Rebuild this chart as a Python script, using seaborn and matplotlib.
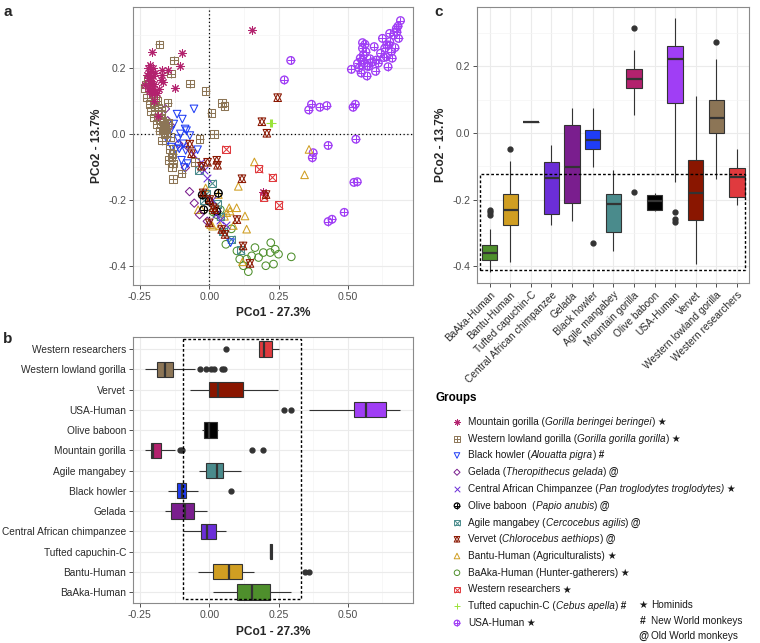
import matplotlib
matplotlib.use("Agg")
import matplotlib.pyplot as plt
from matplotlib.patches import Rectangle
from matplotlib.ticker import FixedLocator
import pandas as pd
import seaborn as sns

# PCoA coordinates (PCo1, PCo2), one pair of lists per group
mountain_gorilla_x = [-0.230, -0.225, -0.222, -0.218, -0.215, -0.212, -0.210, -0.208, -0.206, -0.205,
                      -0.203, -0.201, -0.200, -0.198, -0.195, -0.190, -0.185, -0.180, -0.170, -0.168,
                      -0.150, -0.125, -0.104, -0.100, 0.153, 0.193,
                      -0.221, -0.216, -0.213, -0.209, -0.204, -0.202, -0.175, -0.172]
mountain_gorilla_y = [0.150, 0.180, 0.200, 0.130, 0.210, 0.155, 0.190, 0.132, 0.250, 0.120,
                      0.175, 0.152, 0.128, 0.100, 0.185, 0.125, 0.055, 0.135, 0.195, 0.158,
                      0.193, 0.138, 0.205, 0.245, 0.315, -0.177,
                      0.170, 0.140, 0.185, 0.160, 0.145, 0.200, 0.165, 0.178]

lowland_gorilla_x = [-0.233, -0.225, -0.220, -0.215, -0.210, -0.205, -0.200, -0.195, -0.190, -0.185,
                     -0.180, -0.175, -0.170, -0.168, -0.165, -0.162, -0.160, -0.158, -0.155, -0.150,
                     -0.145, -0.140, -0.135, -0.132, -0.130, -0.100, -0.070, -0.052, -0.035, -0.013,
                     0.008, 0.018, 0.045, 0.055, -0.180, -0.128, -0.138,
                     -0.228, -0.212, -0.198, -0.188, -0.178, -0.172, -0.163, -0.152, -0.147, -0.142,
                     -0.136, -0.131]
lowland_gorilla_y = [0.140, 0.110, 0.165, 0.090, 0.070, 0.125, 0.050, 0.106, 0.030, 0.080,
                     0.010, 0.060, -0.020, 0.040, 0.012, 0.000, 0.020, 0.015, 0.005, 0.095,
                     -0.080, -0.010, -0.100, -0.060, -0.137, -0.120, 0.153, -0.085, -0.016, 0.130,
                     0.064, 0.000, 0.094, 0.084, 0.272, 0.223, 0.183,
                     0.150, 0.120, 0.085, 0.100, 0.045, 0.070, 0.025, 0.030, 0.035, -0.045,
                     -0.070, -0.090]

black_howler_x = [-0.150, -0.140, -0.135, -0.128, -0.120, -0.116, -0.112, -0.108, -0.104, -0.100,
                  -0.097, -0.094, -0.090, -0.087, -0.085, -0.082, -0.078, -0.070, -0.055, -0.042, 0.077]
black_howler_y = [-0.020, 0.010, -0.040, 0.030, -0.046, 0.060, -0.015, -0.045, 0.000, -0.080,
                  0.045, -0.030, -0.102, 0.015, -0.050, 0.010, -0.090, -0.005, 0.076, -0.048, -0.330]

gelada_x = [-0.158, -0.150, -0.139, -0.110, -0.086, -0.071, -0.054, -0.035, -0.007]
gelada_y = [0.076, 0.040, 0.025, -0.030, -0.102, -0.175, -0.210, -0.245, -0.265]

chimpanzee_x = [-0.094, -0.060, -0.031, -0.020, -0.007, 0.010, 0.024, 0.040, 0.060]
chimpanzee_y = [-0.037, -0.060, -0.086, -0.110, -0.134, -0.200, -0.242, -0.260, -0.275]

olive_baboon_x = [-0.025, -0.020, 0.000, 0.027, 0.033]
olive_baboon_y = [-0.185, -0.230, -0.204, -0.235, -0.180]

mangabey_x = [-0.036, -0.020, -0.010, 0.010, 0.027, 0.040, 0.050, 0.080, 0.113]
mangabey_y = [-0.110, -0.200, -0.182, -0.150, -0.213, -0.250, -0.296, -0.320, -0.353]

vervet_x = [-0.070, -0.064, -0.028, -0.022, -0.006, 0.000, 0.002, 0.014, 0.020, 0.027,
            0.030, 0.045, 0.057, 0.100, 0.118, 0.122, 0.147, 0.190, 0.205, 0.208, 0.247]
vervet_y = [-0.031, -0.060, -0.098, -0.179, -0.086, -0.270, -0.199, -0.224, -0.230, -0.080,
            -0.095, -0.290, -0.305, -0.260, -0.136, -0.340, -0.393, 0.037, -0.184, 0.002, 0.110]

bantu_x = [-0.040, -0.028, -0.013, 0.000, 0.005, 0.012, 0.033, 0.039, 0.055, 0.063,
           0.072, 0.075, 0.087, 0.099, 0.105, 0.120, 0.129, 0.135, 0.163, 0.344, 0.360]
bantu_y = [-0.230, -0.229, -0.164, -0.200, -0.275, -0.280, -0.184, -0.279, -0.250, -0.239,
           -0.224, -0.234, -0.278, -0.224, -0.159, -0.388, -0.249, -0.289, -0.085, -0.124, -0.047]

baaka_x = [0.015, 0.027, 0.040, 0.060, 0.080, 0.100, 0.110, 0.123, 0.135, 0.141,
           0.153, 0.165, 0.178, 0.195, 0.204, 0.220, 0.222, 0.232, 0.238, 0.250, 0.296]
baaka_y = [-0.237, -0.245, -0.230, -0.335, -0.288, -0.355, -0.380, -0.400, -0.380, -0.418,
           -0.370, -0.345, -0.375, -0.360, -0.400, -0.360, -0.330, -0.395, -0.350, -0.365, -0.373]

researchers_x = [0.060, 0.178, 0.228, 0.250, 0.196]
researchers_y = [-0.047, -0.105, -0.132, -0.215, -0.192]

capuchin_x = [0.218, 0.222, 0.228]
capuchin_y = [0.033, 0.034, 0.032]

usa_x = [0.271, 0.294, 0.359, 0.369, 0.372, 0.375, 0.399, 0.424, 0.429, 0.429,
         0.443, 0.487, 0.513, 0.519, 0.522, 0.527, 0.529, 0.534, 0.535, 0.553,
         0.553, 0.553, 0.562, 0.569, 0.569, 0.589, 0.603, 0.618, 0.633, 0.639,
         0.645, 0.651, 0.651, 0.657, 0.677, 0.681, 0.683, 0.690, 0.640, 0.660,
         0.600, 0.540, 0.545, 0.548, 0.556, 0.560, 0.565, 0.575, 0.580, 0.595,
         0.610, 0.625, 0.630, 0.648, 0.665, 0.670, 0.675]
usa_y = [0.164, 0.223, 0.073, 0.090, -0.072, -0.057, 0.081, 0.086, -0.035, -0.266,
         -0.259, -0.238, 0.196, 0.081, -0.147, 0.090, -0.016, -0.145, 0.214, 0.224,
         0.260, 0.277, 0.272, 0.206, 0.176, 0.219, 0.224, 0.245, 0.260, 0.234,
         0.204, 0.280, 0.305, 0.250, 0.310, 0.327, 0.290, 0.344, 0.270, 0.230,
         0.190, 0.200, 0.230, 0.185, 0.240, 0.215, 0.250, 0.205, 0.228, 0.265,
         0.215, 0.290, 0.232, 0.270, 0.300, 0.262, 0.320]

groups = {
    "BaAka-Human": (baaka_x, baaka_y),
    "Bantu-Human": (bantu_x, bantu_y),
    "Tufted capuchin-C": (capuchin_x, capuchin_y),
    "Central African chimpanzee": (chimpanzee_x, chimpanzee_y),
    "Gelada": (gelada_x, gelada_y),
    "Black howler": (black_howler_x, black_howler_y),
    "Agile mangabey": (mangabey_x, mangabey_y),
    "Mountain gorilla": (mountain_gorilla_x, mountain_gorilla_y),
    "Olive baboon": (olive_baboon_x, olive_baboon_y),
    "USA-Human": (usa_x, usa_y),
    "Vervet": (vervet_x, vervet_y),
    "Western lowland gorilla": (lowland_gorilla_x, lowland_gorilla_y),
    "Western researchers": (researchers_x, researchers_y),
}
c_order = list(groups.keys())
b_order = c_order[::-1]

colors = {
    "BaAka-Human": "#4E8F2C",
    "Bantu-Human": "#D09E22",
    "Tufted capuchin-C": "#9BE33A",
    "Central African chimpanzee": "#6B2ED8",
    "Gelada": "#7A1E8E",
    "Black howler": "#1F3DF5",
    "Agile mangabey": "#4A8B8C",
    "Mountain gorilla": "#B3226E",
    "Olive baboon": "#000000",
    "USA-Human": "#A03EF5",
    "Vervet": "#8A1600",
    "Western lowland gorilla": "#8C7556",
    "Western researchers": "#E03A3E",
}
shapes = {
    "Mountain gorilla": "asterisk",
    "Western lowland gorilla": "sq_plus",
    "Black howler": "tri_down",
    "Gelada": "diamond",
    "Central African chimpanzee": "cross",
    "Olive baboon": "circ_plus",
    "Agile mangabey": "sq_x",
    "Vervet": "hexagram",
    "Bantu-Human": "tri_up",
    "BaAka-Human": "circle",
    "Western researchers": "sq_x",
    "Tufted capuchin-C": "plus",
    "USA-Human": "circ_plus",
}

df = pd.concat(
    [pd.DataFrame({"group": g, "pco1": xy[0], "pco2": xy[1]}) for g, xy in groups.items()],
    ignore_index=True)

sns.set_theme(style="whitegrid")
plt.rcParams["font.family"] = ["Liberation Sans", "DejaVu Sans"]

fig = plt.figure(figsize=(7.6, 6.43), dpi=100)
ax_a = fig.add_axes([0.175, 0.557, 0.368, 0.432])
ax_b = fig.add_axes([0.175, 0.062, 0.368, 0.414])
ax_c = fig.add_axes([0.628, 0.560, 0.358, 0.429])

tick_col = "#4D4D4D"
grid_major = "#EBEBEB"
grid_minor = "#F4F4F4"


def draw_marker(ax, xs, ys, color, shape, s, lw=0.75, zorder=3):
    open_kw = dict(facecolors="none", edgecolors=color, s=s, linewidths=lw, zorder=zorder)
    line_kw = dict(c=color, s=s, linewidths=lw, zorder=zorder)
    if shape == "asterisk":
        ax.scatter(xs, ys, marker=(8, 2, 0), **line_kw)
    elif shape == "sq_plus":
        ax.scatter(xs, ys, marker="s", **open_kw)
        ax.scatter(xs, ys, marker="+", **line_kw)
    elif shape == "sq_x":
        ax.scatter(xs, ys, marker="s", **open_kw)
        ax.scatter(xs, ys, marker="x", **line_kw)
    elif shape == "circ_plus":
        ax.scatter(xs, ys, marker="o", facecolors="none", edgecolors=color, s=s,
                   linewidths=lw * 1.3, zorder=zorder)
        ax.scatter(xs, ys, marker="+", **line_kw)
    elif shape == "tri_down":
        ax.scatter(xs, ys, marker="v", **open_kw)
    elif shape == "tri_up":
        ax.scatter(xs, ys, marker="^", **open_kw)
    elif shape == "hexagram":
        ax.scatter(xs, ys, marker="^", **open_kw)
        ax.scatter(xs, ys, marker="v", **open_kw)
    elif shape == "diamond":
        ax.scatter(xs, ys, marker="D", facecolors="none", edgecolors=color,
                   s=s * 0.6, linewidths=lw, zorder=zorder)
    elif shape == "cross":
        ax.scatter(xs, ys, marker="x", **line_kw)
    elif shape == "plus":
        ax.scatter(xs, ys, marker="+", **line_kw)
    elif shape == "circle":
        ax.scatter(xs, ys, marker="o", **open_kw)


def style_axes(ax):
    ax.set_facecolor("white")
    ax.set_axisbelow(True)
    for sp in ax.spines.values():
        sp.set_visible(True)
        sp.set_color("#8A8A8A")
        sp.set_linewidth(0.8)
    ax.tick_params(which="major", length=3, width=0.6, color="#333333",
                   labelsize=7.6, labelcolor=tick_col, pad=2,
                   bottom=True, left=True)
    ax.tick_params(which="minor", length=0)


# ---- panel a: scatter ----
draw_order = ["USA-Human", "BaAka-Human", "Bantu-Human", "Western researchers", "Agile mangabey",
              "Olive baboon", "Central African chimpanzee", "Gelada", "Black howler",
              "Western lowland gorilla", "Mountain gorilla", "Vervet", "Tufted capuchin-C"]
for g in draw_order:
    xs, ys = groups[g]
    draw_marker(ax_a, xs, ys, colors[g], shapes[g], 30)

ax_a.set_xlim(-0.275, 0.734)
ax_a.set_ylim(-0.458, 0.385)
ax_a.xaxis.set_major_locator(FixedLocator([-0.25, 0.0, 0.25, 0.5]))
ax_a.xaxis.set_minor_locator(FixedLocator([-0.125, 0.125, 0.375, 0.625]))
ax_a.yaxis.set_major_locator(FixedLocator([-0.4, -0.2, 0.0, 0.2]))
ax_a.yaxis.set_minor_locator(FixedLocator([-0.3, -0.1, 0.1, 0.3]))
ax_a.set_xticklabels(["-0.25", "0.00", "0.25", "0.50"])
ax_a.set_yticklabels(["-0.4", "-0.2", "0.0", "0.2"])
ax_a.grid(which="major", color=grid_major, lw=0.8)
ax_a.grid(which="minor", color=grid_minor, lw=0.5)
ax_a.axhline(0, color="black", ls=(0, (1, 2)), lw=0.9, zorder=2)
ax_a.axvline(0, color="black", ls=(0, (1, 2)), lw=0.9, zorder=2)
style_axes(ax_a)
ax_a.set_xlabel("PCo1 - 27.3%", fontsize=8.6, fontweight="bold", labelpad=4)
ax_a.set_ylabel("PCo2 - 13.7%", fontsize=8.6, fontweight="bold", labelpad=4)

box_kw = dict(hue="group", palette=colors, legend=False, width=0.75, saturation=1,
              linecolor="#333333", linewidth=0.8, showcaps=False, fliersize=3.5,
              flierprops=dict(marker="o", markerfacecolor="#333333", markeredgecolor="#333333"),
              medianprops=dict(linewidth=1.6, color="#333333"))

# ---- panel b: PCo1 boxplots ----
sns.boxplot(data=df, x="pco1", y="group", order=b_order, hue_order=b_order, ax=ax_b, **box_kw)
ax_b.set_xlim(-0.275, 0.734)
ax_b.set_ylim(12.55, -0.6)
ax_b.xaxis.set_major_locator(FixedLocator([-0.25, 0.0, 0.25, 0.5]))
ax_b.xaxis.set_minor_locator(FixedLocator([-0.125, 0.125, 0.375, 0.625]))
ax_b.set_xticklabels(["-0.25", "0.00", "0.25", "0.50"])
ax_b.grid(which="major", color=grid_major, lw=0.8)
ax_b.grid(which="minor", axis="x", color=grid_minor, lw=0.5)
style_axes(ax_b)
ax_b.tick_params(axis="y", labelcolor="#2A2A2A", labelsize=7.3)
ax_b.add_patch(Rectangle((-0.095, -0.5), 0.425, 12.85, fill=False, ec="black",
                         lw=1.0, ls=(0, (2, 1.5)), zorder=5))
ax_b.set_xlabel("PCo1 - 27.3%", fontsize=8.6, fontweight="bold", labelpad=4)
ax_b.set_ylabel("")

# ---- panel c: PCo2 boxplots ----
sns.boxplot(data=df, x="group", y="pco2", order=c_order, hue_order=c_order, ax=ax_c, **box_kw)
ax_c.set_xlim(-0.6, 12.6)
ax_c.set_ylim(-0.45, 0.378)
ax_c.yaxis.set_major_locator(FixedLocator([-0.4, -0.2, 0.0, 0.2]))
ax_c.yaxis.set_minor_locator(FixedLocator([-0.3, -0.1, 0.1, 0.3]))
ax_c.set_yticklabels(["-0.4", "-0.2", "0.0", "0.2"])
ax_c.grid(which="major", color=grid_major, lw=0.8)
ax_c.grid(which="minor", axis="y", color=grid_minor, lw=0.5)
style_axes(ax_c)
ax_c.tick_params(axis="x", labelcolor="#2A2A2A", labelsize=7.3)
for lab in ax_c.get_xticklabels():
    lab.set_rotation(45)
    lab.set_ha("right")
    lab.set_rotation_mode("anchor")
ax_c.add_patch(Rectangle((-0.45, -0.411), 12.85, 0.289, fill=False, ec="black",
                         lw=1.0, ls=(0, (2, 1.5)), zorder=5))
ax_c.set_ylabel("PCo2 - 13.7%", fontsize=8.6, fontweight="bold", labelpad=4)
ax_c.set_xlabel("")

# panel letters
fig.text(0.004, 0.993, "a", fontsize=11, fontweight="bold", va="top")
fig.text(0.004, 0.483, "b", fontsize=11, fontweight="bold", va="top")
fig.text(0.572, 0.993, "c", fontsize=11, fontweight="bold", va="top")

# ---- legend (overlay in pixel coordinates) ----
lax = fig.add_axes([0, 0, 1, 1])
lax.set_xlim(0, 760)
lax.set_ylim(643, 0)
lax.axis("off")
lax.patch.set_alpha(0)
renderer = fig.canvas.get_renderer()

legend_order = ["Mountain gorilla", "Western lowland gorilla", "Black howler", "Gelada",
                "Central African chimpanzee", "Olive baboon", "Agile mangabey", "Vervet",
                "Bantu-Human", "BaAka-Human", "Western researchers", "Tufted capuchin-C", "USA-Human"]
legend_text = {
    "Mountain gorilla": [("Mountain gorilla (", "n"), ("Gorilla beringei beringei", "i"), (")", "n"), (" ★", "b")],
    "Western lowland gorilla": [("Western lowland gorilla (", "n"), ("Gorilla gorilla gorilla", "i"), (")", "n"), (" ★", "b")],
    "Black howler": [("Black howler (", "n"), ("Alouatta pigra", "i"), (")", "n"), (" #", "b")],
    "Gelada": [("Gelada (", "n"), ("Theropithecus gelada", "i"), (")", "n"), (" @", "b")],
    "Central African chimpanzee": [("Central African Chimpanzee (", "n"), ("Pan troglodytes troglodytes)", "i"), (" ★", "b")],
    "Olive baboon": [("Olive baboon  (", "n"), ("Papio anubis", "i"), (")", "n"), (" @", "b")],
    "Agile mangabey": [("Agile mangabey (", "n"), ("Cercocebus agilis", "i"), (")", "n"), (" @", "b")],
    "Vervet": [("Vervet (", "n"), ("Chlorocebus aethiops", "i"), (")", "n"), (" @", "b")],
    "Bantu-Human": [("Bantu-Human (Agriculturalists)", "n"), (" ★", "b")],
    "BaAka-Human": [("BaAka-Human (Hunter-gatherers)", "n"), (" ★", "b")],
    "Western researchers": [("Western researchers", "n"), (" ★", "b")],
    "Tufted capuchin-C": [("Tufted capuchin-C (", "n"), ("Cebus apella", "i"), (")", "n"), (" #", "b")],
    "USA-Human": [("USA-Human", "n"), (" ★", "b")],
}

lax.text(435, 398, "Groups", fontsize=8.4, fontweight="bold", va="center", ha="left", color="black")


def put_pieces(x, y, pieces, size=7.2):
    for txt, kind in pieces:
        t = lax.text(x, y, txt, fontsize=size, va="center", ha="left", color="#1A1A1A",
                     fontstyle="italic" if kind == "i" else "normal",
                     fontweight="bold" if kind == "b" else "normal")
        x += t.get_window_extent(renderer).width


for i, g in enumerate(legend_order):
    y = 422 + i * 16.75
    draw_marker(lax, [457], [y], colors[g], shapes[g], 16, lw=0.7)
    put_pieces(468, y, legend_text[g])

for i, (sym, lab) in enumerate([("★", "Hominids"), ("#", "New World monkeys"), ("@", "Old World monkeys")]):
    y = 605 + i * 15.5
    lax.text(643, y, sym, fontsize=7.5, fontweight="bold", va="center", ha="center", color="#1A1A1A")
    lax.text(651, y, lab, fontsize=7.2, va="center", ha="left", color="#1A1A1A")

fig.savefig("out.png", dpi=100)
